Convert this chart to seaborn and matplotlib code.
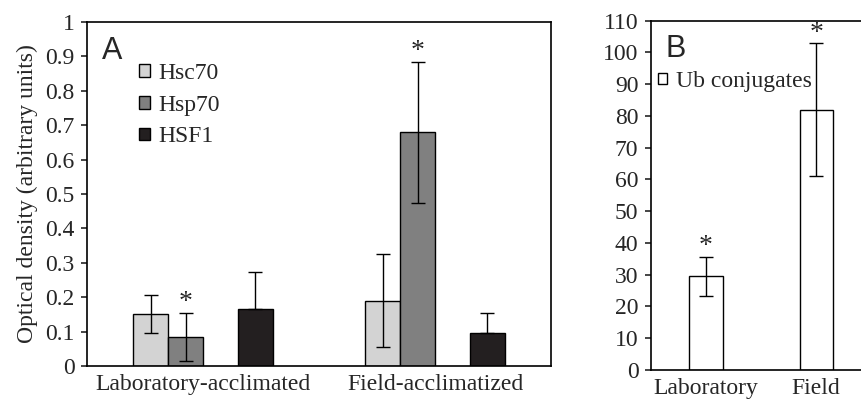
import seaborn as sns
import matplotlib.pyplot as plt
import pandas as pd
from matplotlib.patches import Patch

# Panel A data
groups = ["Laboratory-acclimated", "Field-acclimatized"]
proteins = ["Hsc70", "Hsp70", "HSF1"]
hsc70 = [0.15, 0.19]
hsc70_err = [0.055, 0.135]
hsp70 = [0.085, 0.68]
hsp70_err = [0.07, 0.205]
hsf1 = [0.165, 0.095]
hsf1_err = [0.107, 0.06]
colors_a = ["#d3d3d3", "#808080", "#231f20"]
stars_a = [(1, 0), (1, 1)]  # (protein index, group index)

# Panel B data
groups_b = ["Laboratory", "Field"]
ub = [29.5, 82]
ub_err = [6.2, 21]

sns.set_style("ticks")
plt.rcParams["font.family"] = ["Liberation Serif", "DejaVu Serif"]
plt.rcParams["font.size"] = 17
plt.rcParams["axes.linewidth"] = 1.2

fig = plt.figure(figsize=(8.61, 4.01), dpi=100)
ax1 = fig.add_axes([0.101, 0.0873, 0.539, 0.858])
ax2 = fig.add_axes([0.756, 0.0773, 0.256, 0.871])

vals = [hsc70, hsp70, hsf1]
errs = [hsc70_err, hsp70_err, hsf1_err]
df = pd.DataFrame({
    "group": [g for p in proteins for g in groups],
    "protein": [p for p in proteins for g in groups],
    "value": [v for s in vals for v in s],
    "err": [e for s in errs for e in s],
})
# blank slot between Hsp70 and HSF1, as in the original layout
hue_order = ["Hsc70", "Hsp70", " ", "HSF1"]
palette = {"Hsc70": colors_a[0], "Hsp70": colors_a[1], " ": "white", "HSF1": colors_a[2]}
sns.barplot(data=df, x="group", y="value", hue="protein", hue_order=hue_order,
            order=groups, palette=palette, width=0.6, edgecolor="black",
            linewidth=1, saturation=1, errorbar=None, legend=False, ax=ax1)

centers = {}
for patch, (_, row) in zip(ax1.patches, df.iterrows()):
    x = patch.get_x() + patch.get_width() / 2
    centers[(row["protein"], row["group"])] = x
    # lower half of the HSF1 bars' error bars is hidden in the black fill
    low = 0 if row["protein"] == "HSF1" else row["err"]
    ax1.errorbar(x, row["value"], yerr=[[low], [row["err"]]], color="black",
                 lw=1, capsize=5, capthick=1)
for pi, gi in stars_a:
    p, g = proteins[pi], groups[gi]
    top = vals[pi][gi] + errs[pi][gi]
    ax1.annotate("*", (centers[(p, g)], top), xytext=(0, 7),
                 textcoords="offset points", ha="center", va="center", fontsize=20)

ax1.set_ylim(0, 1)
ax1.set_xlim(-0.5, 1.5)
ax1.set_yticks([i / 10 for i in range(11)])
ax1.set_yticklabels(["0"] + [f"{i/10:.1f}" for i in range(1, 10)] + ["1"])
ax1.set_xlabel("")
ax1.set_ylabel("Optical density (arbitrary units)", fontsize=17, labelpad=5)
ax1.tick_params(axis="x", length=0, pad=6)
ax1.tick_params(axis="y", length=4, width=1.2, pad=5, direction="out")
for s in ax1.spines.values():
    s.set_visible(True)
    s.set_color("black")
ax1.text(0.032, 0.916, "A", transform=ax1.transAxes, fontsize=22,
         family="Liberation Sans", va="center")
handles = [Patch(facecolor=c, edgecolor="black", lw=1) for c in colors_a]
ax1.legend(handles, proteins, loc="upper left", bbox_to_anchor=(0.067, 0.942),
           frameon=False, handlelength=0.45, handleheight=0.45,
           handletextpad=0.35, labelspacing=0.45, fontsize=17)

# Panel B
df_b = pd.DataFrame({"group": groups_b, "value": ub, "err": ub_err})
sns.barplot(data=df_b, x="group", y="value", color="white", width=0.3,
            edgecolor="black", linewidth=1, saturation=1, errorbar=None, ax=ax2)
for patch, v, e in zip(ax2.patches, ub, ub_err):
    x = patch.get_x() + patch.get_width() / 2
    ax2.errorbar(x, v, yerr=e, color="black", lw=1, capsize=5, capthick=1)
    ax2.annotate("*", (x, v + e), xytext=(0, 7), textcoords="offset points",
                 ha="center", va="center", fontsize=20)
ax2.set_ylim(0, 110)
ax2.set_xlim(-0.5, 1.5)
ax2.set_yticks(range(0, 111, 10))
ax2.set_xlabel("")
ax2.set_ylabel("")
ax2.tick_params(axis="x", length=0, pad=6)
ax2.tick_params(axis="y", length=4, width=1.2, pad=5, direction="out")
for s in ax2.spines.values():
    s.set_visible(True)
    s.set_color("black")
ax2.text(0.068, 0.92, "B", transform=ax2.transAxes, fontsize=22,
         family="Liberation Sans", va="center")
ax2.legend([Patch(facecolor="white", edgecolor="black", lw=1)], ["Ub conjugates"],
           loc="upper left", bbox_to_anchor=(-0.065, 0.917), frameon=False,
           handlelength=0.4, handleheight=0.4, handletextpad=0.35, fontsize=17)

fig.savefig("out.png", dpi=100)
